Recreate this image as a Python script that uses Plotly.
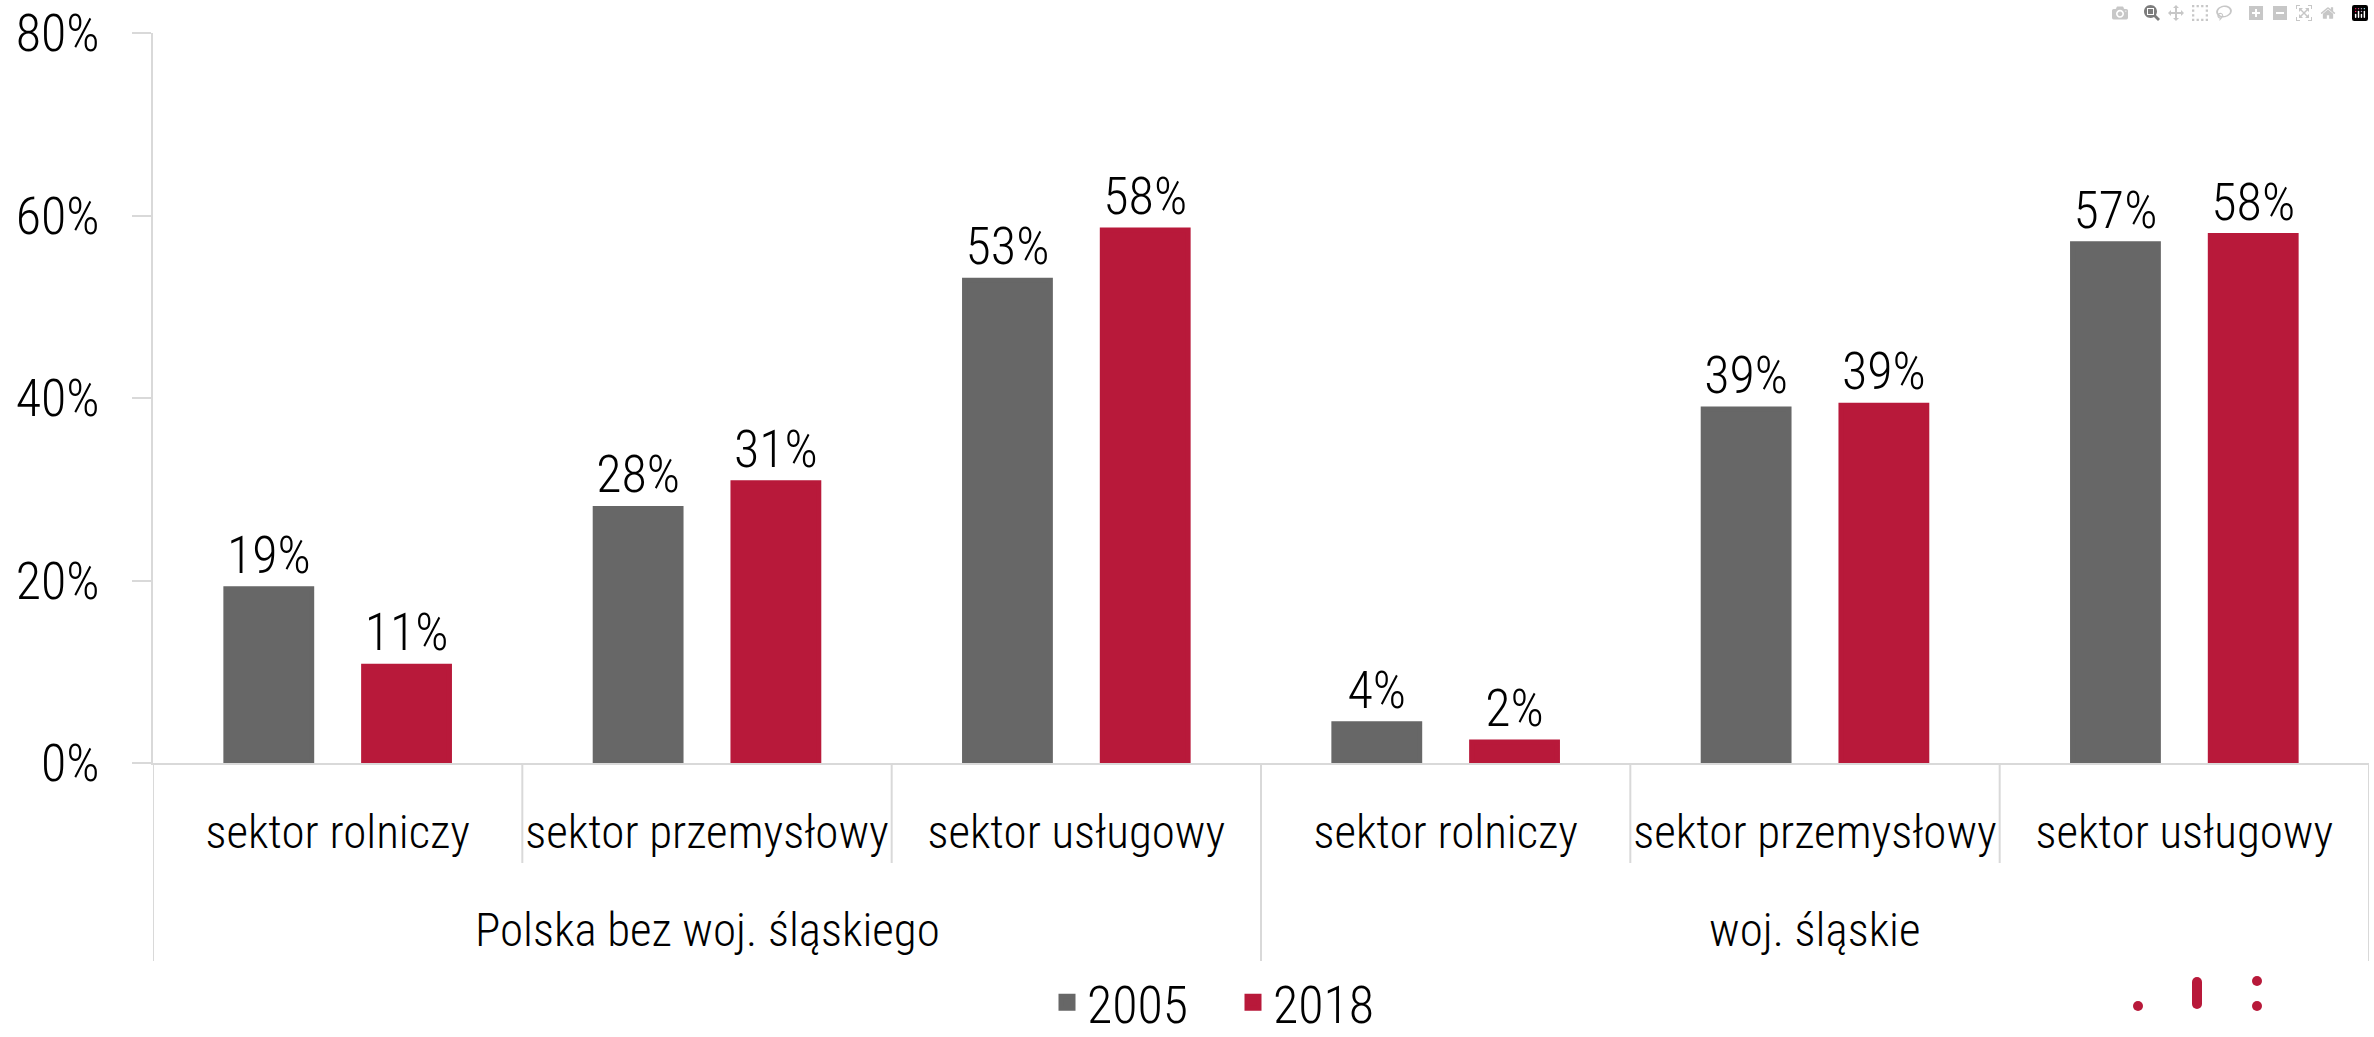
import plotly.graph_objects as go

# ---- data ----
regions = ["Polska bez woj. śląskiego", "woj. śląskie"]
sectors = ["sektor rolniczy", "sektor przemysłowy", "sektor usługowy"]
years = ["2005", "2018"]
values_2005 = [19.1, 27.9, 52.9, 4.3, 38.8, 56.9]
values_2018 = [10.6, 30.7, 58.4, 2.3, 39.2, 57.8]
y_range = [0, 80]
y_step = 20

colors = {"2005": "#676767", "2018": "#B8193A"}
FONT = "'Roboto Condensed', 'Liberation Sans Narrow', 'Arial Narrow', 'DejaVu Sans Condensed', sans-serif"
FS_CAT = 47    # category labels
FS_NUM = 52    # numbers: ticks, data labels, legend
GRID = "#d9d9d9"

# category index positions (sector within region)
n_sec = len(sectors)
pos = list(range(len(regions) * n_sec))
tick_text = [s for _ in regions for s in sectors]

W, H = 2374, 1037
L, R, T, B = 153, 5, 33, 274
plot_w = W - L - R
plot_h = H - T - B


def py2paper(py):
    return (H - B - py) / plot_h


def px2paper(px):
    return (px - L) / plot_w


fig = go.Figure()
for name, vals in zip(years, [values_2005, values_2018]):
    fig.add_trace(go.Bar(
        x=pos, y=vals, name=name,
        customdata=tick_text,
        marker=dict(color=colors[name], line=dict(width=5, color=colors[name])),
        texttemplate="%{y:.0f}%", textposition="outside",
        textfont=dict(size=FS_NUM, color="#000000", family=FONT, weight=300),
        constraintext="none", cliponaxis=False,
        hovertemplate="%{customdata}: %{y:.1f}%<extra>" + name + "</extra>",
    ))

shapes = []
annotations = []
# separators between sectors (short) and between regions (long)
for k in range(len(regions)):
    start = k * n_sec - 0.5
    shapes.append(dict(type="line", xref="x", yref="paper",
                       x0=start, x1=start, y0=0, y1=py2paper(961),
                       line=dict(color=GRID, width=2)))
    for j in range(1, n_sec):
        shapes.append(dict(type="line", xref="x", yref="paper",
                           x0=start + j, x1=start + j, y0=0, y1=py2paper(863),
                           line=dict(color=GRID, width=2)))
    annotations.append(dict(xref="x", yref="paper",
                            x=start + n_sec / 2, y=py2paper(930),
                            text=regions[k], showarrow=False,
                            xanchor="center", yanchor="middle",
                            font=dict(size=FS_CAT, family=FONT, weight=300,
                                      color="#000000")))
end = len(pos) - 0.5
shapes.append(dict(type="line", xref="x", yref="paper",
                   x0=end, x1=end, y0=0, y1=py2paper(961),
                   line=dict(color=GRID, width=2)))

# logo (decorative)
LOGO = "#B8193A"
def dot(cx, cy, r=5):
    return dict(type="circle", xref="paper", yref="paper",
                x0=px2paper(cx - r), x1=px2paper(cx + r),
                y0=py2paper(cy + r), y1=py2paper(cy - r),
                fillcolor=LOGO, line=dict(width=0))
shapes += [dot(2138, 1006), dot(2257, 981), dot(2257, 1006),
           dot(2197, 982), dot(2197, 1004),
           dict(type="rect", xref="paper", yref="paper",
                x0=px2paper(2192), x1=px2paper(2202),
                y0=py2paper(1004), y1=py2paper(982),
                fillcolor=LOGO, line=dict(width=0))]

fig.update_layout(
    width=W, height=H, autosize=False,
    margin=dict(l=L, r=R, t=T, b=B, pad=0, autoexpand=False),
    paper_bgcolor="white", plot_bgcolor="white",
    font=dict(family=FONT, size=FS_CAT, color="#000000", weight=300),
    barmode="group", bargap=0.254, bargroupgap=0.377,
    showlegend=True,
    legend=dict(orientation="h", x=px2paper(1233), xanchor="center",
                y=py2paper(1043), yanchor="bottom",
                entrywidth=141, entrywidthmode="pixels",
                font=dict(size=FS_NUM, weight=300), traceorder="normal"),
    shapes=shapes, annotations=annotations,
)
fig.update_xaxes(
    range=[pos[0] - 0.5, pos[-1] + 0.5], tickmode="array",
    tickvals=pos, ticktext=tick_text,
    showline=True, linecolor=GRID, linewidth=2, showgrid=False,
    zeroline=False, ticks="", tickangle=0, ticklabelstandoff=27,
    tickfont=dict(size=FS_CAT, family=FONT, weight=300),
)
fig.update_yaxes(
    range=y_range, dtick=y_step, tick0=0, ticksuffix="%", showgrid=False,
    zeroline=False, showline=True, linecolor=GRID, linewidth=2,
    ticks="outside", ticklen=19, tickcolor=GRID, tickwidth=2,
    ticklabelstandoff=22,
    tickfont=dict(size=FS_NUM, family=FONT, weight=300),
)

fig.write_html("out.html", post_script="document.body.style.margin='0';")
